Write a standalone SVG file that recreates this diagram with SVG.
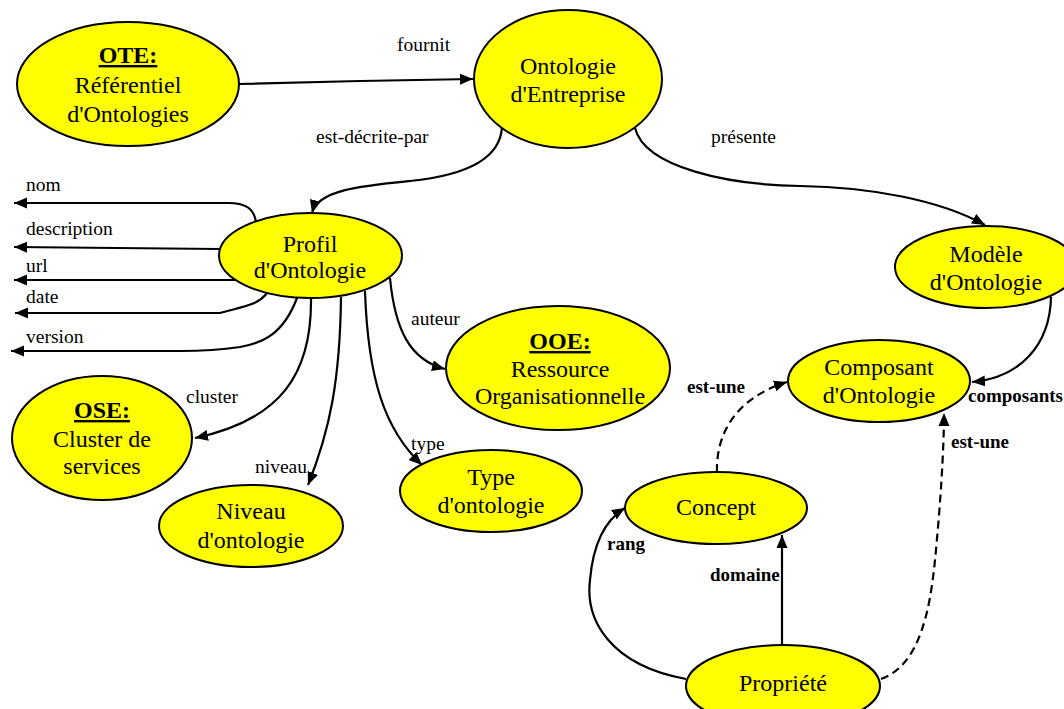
<svg xmlns="http://www.w3.org/2000/svg" width="1064" height="709" viewBox="0 0 1064 709">
<style>
.node ellipse{fill:#ffff00;stroke:#000;stroke-width:2}
.nt{font-family:"Liberation Serif","Times New Roman",serif;font-size:24px;fill:#000;text-anchor:middle}
.nb{font-weight:bold;text-decoration:underline}
.lbl{font-family:"Liberation Serif","Times New Roman",serif;font-size:19.5px;fill:#000}
.lb{font-family:"Liberation Serif","Times New Roman",serif;font-size:19px;font-weight:bold;fill:#000}
.edge{fill:none;stroke:#000;stroke-width:2.2;marker-end:url(#ah)}
.dash{stroke-dasharray:8 5}
</style>
<defs>
<marker id="ah" markerUnits="userSpaceOnUse" markerWidth="14" markerHeight="12" refX="13" refY="6" orient="auto">
<path d="M0,0.5 L13,6 L0,11.5 z" fill="#000"/>
</marker>
</defs>
<rect width="1064" height="709" fill="#fff"/>
<g id="connectors">
<path class="edge" d="M239,84 L360,81 L473,79"/>
<path class="edge" d="M502,127 C500,165 450,177 410,181 C360,186 318,190 312,213"/>
<path class="edge" d="M635,128 C645,168 730,185 800,186 C870,187 940,200 985,225"/>
<path class="edge" d="M256,222 C254,210 248,203 228,203 L14,203"/>
<path class="edge" d="M220,249 L14,247"/>
<path class="edge" d="M235,280 L14,280"/>
<path class="edge" d="M267,293 C258,305 245,306 220,313 L15,313"/>
<path class="edge" d="M297,298 C283,335 262,343 240,347 C220,350 200,351 180,351 L11,351"/>
<path class="edge" d="M311,298 C312,375 280,420 195,438"/>
<path class="edge" d="M341,297 C340,380 330,430 308,485"/>
<path class="edge" d="M365,291 C368,380 385,430 422,465"/>
<path class="edge" d="M390,278 C395,330 410,360 445,369"/>
<path class="edge" d="M1051,297 C1050,345 1020,378 972,382"/>
<path class="edge dash" d="M717,472 C716,440 730,400 787,382"/>
<path class="edge dash" d="M881,679 C920,665 930,610 935,560 C940,510 944,450 944,413"/>
<path class="edge" d="M686,679 C610,665 585,620 590,580 C593,545 605,520 625,508"/>
<path class="edge" d="M782,644 L782,535"/>
</g>
<g id="labels">
<text class="lbl" x="397" y="51">fournit</text>
<text class="lbl" x="316" y="143">est-décrite-par</text>
<text class="lbl" x="711" y="143">présente</text>
<text class="lbl" x="26" y="191">nom</text>
<text class="lbl" x="26" y="235">description</text>
<text class="lbl" x="26" y="272">url</text>
<text class="lbl" x="26" y="303">date</text>
<text class="lbl" x="26" y="343">version</text>
<text class="lbl" x="186" y="403">cluster</text>
<text class="lbl" x="255" y="473">niveau</text>
<text class="lbl" x="411" y="450">type</text>
<text class="lbl" x="411" y="325">auteur</text>
<text class="lb" x="687" y="393">est-une</text>
<text class="lb" x="968" y="402" font-size="16.5">composants</text>
<text class="lb" x="951" y="448">est-une</text>
<text class="lb" x="607" y="550">rang</text>
<text class="lb" x="710" y="581">domaine</text>
</g>
<g id="ote" class="node">
<ellipse cx="128" cy="84" rx="111" ry="62"/>
<text class="nt nb" x="128" y="63">OTE:</text>
<text class="nt" x="128" y="93">Référentiel</text>
<text class="nt" x="128" y="122">d'Ontologies</text>
</g>
<g id="ontologie-entreprise" class="node">
<ellipse cx="568" cy="79" rx="94" ry="69"/>
<text class="nt" x="568" y="74">Ontologie</text>
<text class="nt" x="568" y="102">d'Entreprise</text>
</g>
<g id="profil" class="node">
<ellipse cx="310.5" cy="255.5" rx="91.5" ry="42.5"/>
<text class="nt" x="310" y="252">Profil</text>
<text class="nt" x="310" y="278">d'Ontologie</text>
</g>
<g id="modele" class="node">
<ellipse cx="986" cy="267" rx="91" ry="41"/>
<text class="nt" x="986" y="262">Modèle</text>
<text class="nt" x="986" y="290">d'Ontologie</text>
</g>
<g id="ooe" class="node">
<ellipse cx="558" cy="368" rx="112" ry="62"/>
<text class="nt nb" x="560" y="349">OOE:</text>
<text class="nt" x="560" y="377">Ressource</text>
<text class="nt" x="560" y="404">Organisationnelle</text>
</g>
<g id="ose" class="node">
<ellipse cx="102" cy="438" rx="90" ry="62"/>
<text class="nt nb" x="102" y="418">OSE:</text>
<text class="nt" x="102" y="447">Cluster de</text>
<text class="nt" x="102" y="474">services</text>
</g>
<g id="niveau" class="node">
<ellipse cx="251" cy="526" rx="92" ry="41"/>
<text class="nt" x="251" y="519">Niveau</text>
<text class="nt" x="251" y="548">d'ontologie</text>
</g>
<g id="type" class="node">
<ellipse cx="491" cy="491" rx="91" ry="41"/>
<text class="nt" x="491" y="485">Type</text>
<text class="nt" x="491" y="513">d'ontologie</text>
</g>
<g id="composant" class="node">
<ellipse cx="879" cy="381" rx="91" ry="41"/>
<text class="nt" x="879" y="375">Composant</text>
<text class="nt" x="879" y="403">d'Ontologie</text>
</g>
<g id="concept" class="node">
<ellipse cx="716" cy="508" rx="91" ry="36"/>
<text class="nt" x="716" y="515">Concept</text>
</g>
<g id="propriete" class="node">
<ellipse cx="783" cy="686" rx="97" ry="41"/>
<text class="nt" x="783" y="691">Propriété</text>
</g>
</svg>
